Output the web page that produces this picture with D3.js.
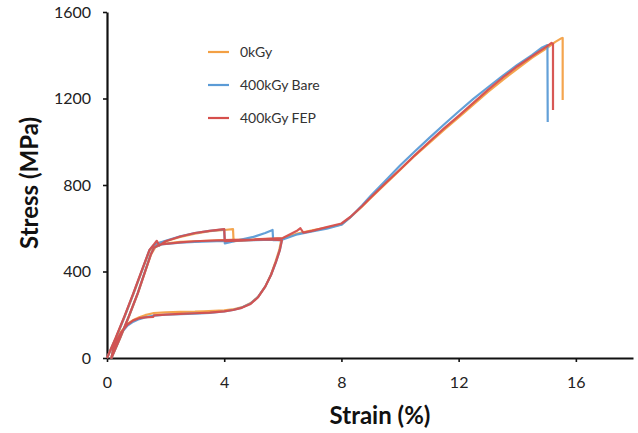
<!DOCTYPE html>
<meta charset="utf-8">
<script src="https://d3js.org/d3.v7.min.js"></script>
<style>
  body { margin: 0; background: #fff; }
  text { font-family: Lato, "Open Sans", sans-serif; }
</style>
<div id="my_dataviz"></div>
<script>

// series names and colours
var seriesNames = ["0kGy", "400kGy Bare", "400kGy FEP"];
var seriesColors = ["#F3A044", "#5B9BD6", "#D64F4C"];

// strain (%), stress (MPa)
var kGy0 = [[0,0],[0.3,90],[0.6,190],[0.9,295],[1.2,405],[1.45,495],[1.6,520],[1.75,530],[2.0,540],[2.5,560],[3.0,575],[3.5,586],[4.0,592],[4.3,596],[4.32,540],[4.8,545],[5.3,548],[5.95,548],
  [5.88,500],[5.75,445],[5.58,380],[5.4,330],[5.17,285],[4.92,255],[4.65,237],[4.35,226],[4.0,220],[3.3,216],[3.0,214],[2.5,213],[2.0,211],[1.6,208],[1.3,198],[1.1,188],[0.9,176],[0.7,158],[0.5,125],[0.35,88],[0.22,45],[0.15,0],
  [0.45,92],[0.75,192],[1.05,298],[1.3,398],[1.5,478],[1.65,512],[1.9,528],[2.5,537],[3.0,540],[4.0,545],[5.0,548],[6.0,553],[6.5,575],[7.0,590],[7.5,603],[8.0,618],[8.3,650],[8.7,700],[9.0,740],[9.5,805],[10.0,870],[10.5,935],[11.0,995],[11.5,1055],[12.0,1112],[12.5,1172],[13.0,1230],[13.5,1285],[14.0,1337],[14.5,1388],[15.0,1432],[15.3,1462],[15.5,1478],[15.55,1480],[15.55,1193]];

var kGy400Bare = [[0,0],[0.3,92],[0.6,192],[0.9,298],[1.2,408],[1.45,500],[1.6,522],[1.75,532],[2.0,542],[2.5,563],[3.0,578],[3.5,588],[4.0,595],[4.02,530],[4.5,545],[5.0,560],[5.4,578],[5.65,592],[5.67,545],[5.97,545],
  [5.9,500],[5.77,445],[5.6,385],[5.4,330],[5.15,282],[4.9,252],[4.6,233],[4.3,222],[4.0,215],[3.5,208],[3.0,205],[2.5,203],[2.0,200],[1.6,196],[1.3,188],[1.1,180],[0.9,168],[0.7,150],[0.5,118],[0.35,82],[0.22,42],[0.15,0],
  [0.45,94],[0.75,194],[1.05,300],[1.3,402],[1.5,482],[1.62,512],[1.85,525],[2.5,533],[3.0,537],[4.0,542],[5.0,545],[6.0,548],[6.5,572],[7.0,585],[7.5,598],[8.0,616],[8.3,650],[8.7,705],[9.0,750],[9.5,820],[10.0,890],[10.5,955],[11.0,1018],[11.5,1080],[12.0,1140],[12.5,1198],[13.0,1252],[13.5,1305],[14.0,1355],[14.5,1400],[14.85,1436],[15.03,1447],[15.04,1091]];

var kGy400FEP = [[0,0],[0.3,95],[0.6,195],[0.9,300],[1.2,410],[1.45,500],[1.6,525],[1.7,542],[1.78,520],[2.0,540],[2.5,562],[3.0,578],[3.5,588],[4.0,596],[4.02,540],[4.5,543],[5.0,546],[5.5,548],[5.97,545],
  [5.9,500],[5.78,450],[5.6,385],[5.4,330],[5.15,280],[4.9,250],[4.6,232],[4.3,222],[4.0,216],[3.5,210],[3.0,207],[2.5,204],[2.0,201],[1.6,197],[1.58,190],[1.3,188],[1.1,184],[0.9,174],[0.7,155],[0.5,122],[0.35,85],[0.22,45],[0.15,0],
  [0.45,95],[0.75,195],[1.05,300],[1.3,400],[1.5,480],[1.6,510],[1.8,525],[2.5,535],[3.0,540],[4.0,545],[5.0,548],[6.0,555],[6.5,590],[6.6,600],[6.7,580],[7.0,588],[7.5,605],[8.0,622],[8.3,652],[8.7,702],[9.0,742],[9.5,808],[10.0,872],[10.5,937],[11.0,1000],[11.5,1062],[12.0,1120],[12.5,1180],[13.0,1240],[13.5,1296],[14.0,1348],[14.5,1395],[15.0,1440],[15.17,1457],[15.22,1452],[15.22,1147]];

var xTicks = [0, 4, 8, 12, 16];
var yTicks = [0, 400, 800, 1200, 1600];

var allSeries = [kGy0, kGy400Bare, kGy400FEP];

// set the dimensions and margins of the graph
var margin = {top: 12, right: 5, bottom: 75, left: 107},
    width = 638 - margin.left - margin.right,
    height = 433 - margin.top - margin.bottom;

var svg = d3.select("#my_dataviz")
  .append("svg")
    .attr("width", width + margin.left + margin.right)
    .attr("height", height + margin.top + margin.bottom)
  .append("g")
    .attr("transform", "translate(" + margin.left + "," + margin.top + ")");

// X axis
var x = d3.scaleLinear()
  .domain([0, 17.95])
  .range([0, width]);
var xAxis = svg.append("g")
  .attr("transform", "translate(0," + height + ")")
  .call(d3.axisBottom(x).tickValues(xTicks).tickFormat(d3.format("d")).tickSize(4).tickPadding(15).tickSizeOuter(0));

// Y axis
var y = d3.scaleLinear()
  .domain([0, 1600])
  .range([height, 0]);
var yAxis = svg.append("g")
  .call(d3.axisLeft(y).tickValues(yTicks).tickFormat(d3.format("d")).tickSize(4).tickPadding(12).tickSizeOuter(0));

// styling of both axes
[xAxis, yAxis].forEach(function (a) {
  a.select(".domain").attr("stroke", "#111").attr("stroke-width", 2.2);
  a.selectAll(".tick line").attr("stroke", "#111").attr("stroke-width", 1.6);
  a.selectAll(".tick text")
    .style("font-family", "Lato, sans-serif")
    .style("font-size", "16px")
    .attr("fill", "#222");
});

// lines
var line = d3.line()
  .x(function (d) { return x(d[0]); })
  .y(function (d) { return y(d[1]); });

svg.append("g")
  .selectAll("path")
  .data(allSeries)
  .enter()
  .append("path")
    .attr("d", line)
    .attr("fill", "none")
    .attr("stroke", function (d, i) { return seriesColors[i]; })
    .attr("stroke-width", 2.2)
    .attr("stroke-linejoin", "round")
    .attr("opacity", 0.95);

// legend
var legend = svg.append("g")
  .attr("transform", "translate(" + (208 - margin.left) + "," + (52 - margin.top) + ")");
seriesNames.forEach(function (name, i) {
  var row = legend.append("g").attr("transform", "translate(0," + (i * 33) + ")");
  row.append("line")
    .attr("x1", 0).attr("x2", 21)
    .attr("y1", 0).attr("y2", 0)
    .attr("stroke", seriesColors[i])
    .attr("stroke-width", 2.2);
  row.append("text")
    .attr("x", 32)
    .attr("y", 0)
    .attr("dy", "0.35em")
    .style("font-size", "14px")
    .attr("fill", "#333")
    .text(name);
});

// X axis label
svg.append("text")
  .attr("text-anchor", "middle")
  .attr("x", 380 - margin.left)
  .attr("y", 424 - margin.top)
  .style("font-size", "24px")
  .style("font-weight", "bold")
  .attr("fill", "#111")
  .text("Strain (%)");

// Y axis label
svg.append("text")
  .attr("text-anchor", "middle")
  .attr("transform", "rotate(-90)")
  .attr("x", -(183 - margin.top))
  .attr("y", 38 - margin.left)
  .style("font-size", "24px")
  .style("font-weight", "bold")
  .attr("fill", "#111")
  .text("Stress (MPa)");

</script>
